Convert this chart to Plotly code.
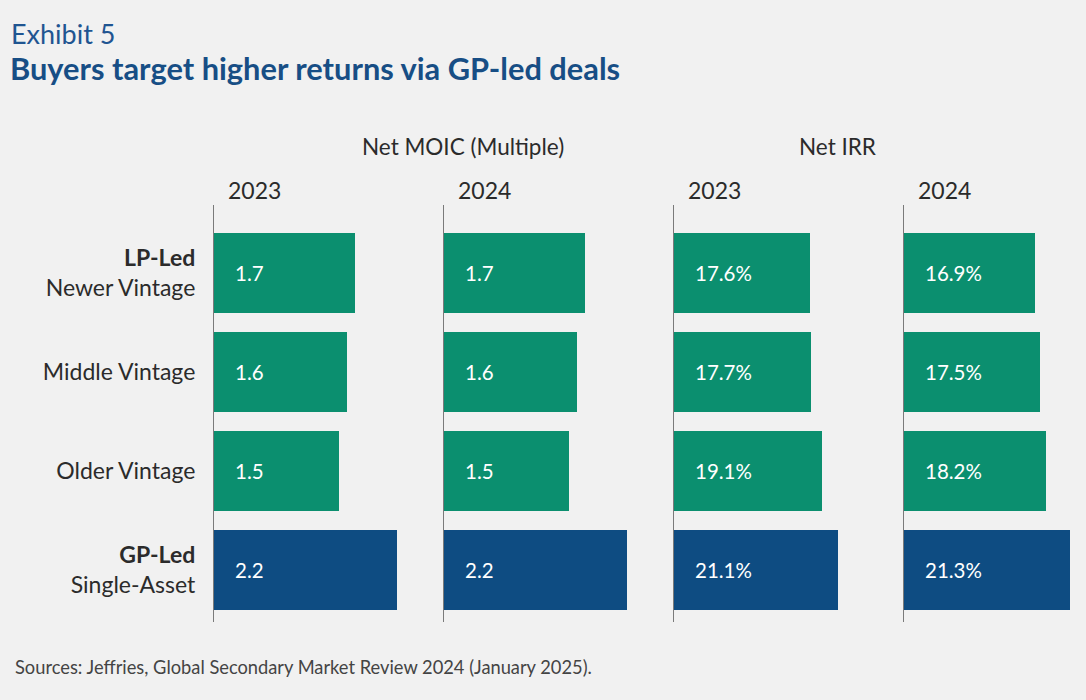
import plotly.graph_objects as go

W, H = 1086, 700

categories = ["LP-Led Newer Vintage", "Middle Vintage", "Older Vintage", "GP-Led Single-Asset"]
tick_text = [
    "<b>LP-Led</b><br>Newer Vintage",
    "Middle Vintage",
    "Older Vintage",
    "<b>GP-Led</b><br>Single-Asset",
]
moic_2023 = [1.7, 1.6, 1.5, 2.2]
moic_2024 = [1.7, 1.6, 1.5, 2.2]
irr_2023 = [17.6, 17.7, 19.1, 21.1]
irr_2024 = [16.9, 17.5, 18.2, 21.3]
panel_years = ["2023", "2024", "2023", "2024"]

GREEN = "#0b8f6f"
BLUE = "#0e4c82"
BG = "#f1f1f1"
FONT = "Lato"

bar_colors = [GREEN, GREEN, GREEN, BLUE]

# (values, label format, left px, right px, px per unit)
panels = [
    (moic_2023, "{:.1f}", 214, 424, 83.2),
    (moic_2024, "{:.1f}", 444, 654, 83.2),
    (irr_2023, "{:.1f}%", 674, 884, 7.75),
    (irr_2024, "{:.1f}%", 904, 1086, 7.78),
]


def px_x(p):
    return p / W


def px_y(p):
    return 1 - p / H


fig = go.Figure()
annotations = []

for i, (vals, fmt, left, right, ppu) in enumerate(panels):
    n = "" if i == 0 else str(i + 1)
    fig.add_trace(go.Bar(
        x=vals,
        y=categories,
        orientation="h",
        marker=dict(color=bar_colors, line=dict(width=0)),
        width=0.81,
        hoverinfo="skip",
        xaxis="x" + n,
        yaxis="y" + n,
        showlegend=False,
    ))
    fig.update_layout(**{
        "xaxis" + n: dict(
            domain=[px_x(left), px_x(right)],
            range=[0, (right - left) / ppu],
            visible=False,
            fixedrange=True,
            anchor="y" + n,
        ),
        "yaxis" + n: dict(
            domain=[px_y(622), px_y(205)],
            type="category",
            categoryorder="array",
            categoryarray=categories,
            range=[3.525, -0.687],
            tickmode="array",
            tickvals=categories,
            ticktext=tick_text,
            showticklabels=(i == 0),
            ticks="",
            ticklabelstandoff=13,
            tickfont=dict(family=FONT, size=23, color="#2b2b2b"),
            showline=True,
            linecolor="#7a7a7a",
            linewidth=1.2,
            showgrid=False,
            zeroline=False,
            fixedrange=True,
            anchor="x" + n,
        ),
    })
    for cat, v in zip(categories, vals):
        annotations.append(dict(
            x=0, y=cat, xref="x" + n, yref="y" + n,
            text=fmt.format(v), showarrow=False,
            xanchor="left", yanchor="middle", xshift=19,
            font=dict(family=FONT, size=20.5, color="white"),
        ))
    annotations.append(dict(
        x=px_x(left + 12), y=px_y(190), xref="paper", yref="paper",
        text=panel_years[i], showarrow=False,
        xanchor="left", yanchor="middle",
        font=dict(family=FONT, size=23, color="#2b2b2b"),
    ))

annotations += [
    dict(x=px_x(9), y=px_y(33), xref="paper", yref="paper", text="Exhibit 5",
         showarrow=False, xanchor="left", yanchor="middle",
         font=dict(family=FONT, size=27, color="#1f5591")),
    dict(x=px_x(8), y=px_y(68), xref="paper", yref="paper",
         text="<b>Buyers target higher returns via GP-led deals</b>",
         showarrow=False, xanchor="left", yanchor="middle",
         font=dict(family=FONT, size=30.8, color="#174e85")),
    dict(x=px_x(463), y=px_y(147), xref="paper", yref="paper", text="Net MOIC (Multiple)",
         showarrow=False, xanchor="center", yanchor="middle",
         font=dict(family=FONT, size=22.5, color="#2b2b2b")),
    dict(x=px_x(837), y=px_y(147), xref="paper", yref="paper", text="Net IRR",
         showarrow=False, xanchor="center", yanchor="middle",
         font=dict(family=FONT, size=22.5, color="#2b2b2b")),
    dict(x=px_x(13), y=px_y(667), xref="paper", yref="paper",
         text="Sources: Jeffries, Global Secondary Market Review 2024 (January 2025).",
         showarrow=False, xanchor="left", yanchor="middle",
         font=dict(family=FONT, size=18.3, color="#444444")),
]

fig.update_layout(
    width=W,
    height=H,
    margin=dict(l=0, r=0, t=0, b=0),
    paper_bgcolor=BG,
    plot_bgcolor=BG,
    font=dict(family=FONT),
    annotations=annotations,
    bargap=0,
)

fig.write_html(
    "out.html",
    config=dict(displayModeBar=False),
    post_script="document.body.style.margin='0';document.body.style.background='#f1f1f1';",
)
